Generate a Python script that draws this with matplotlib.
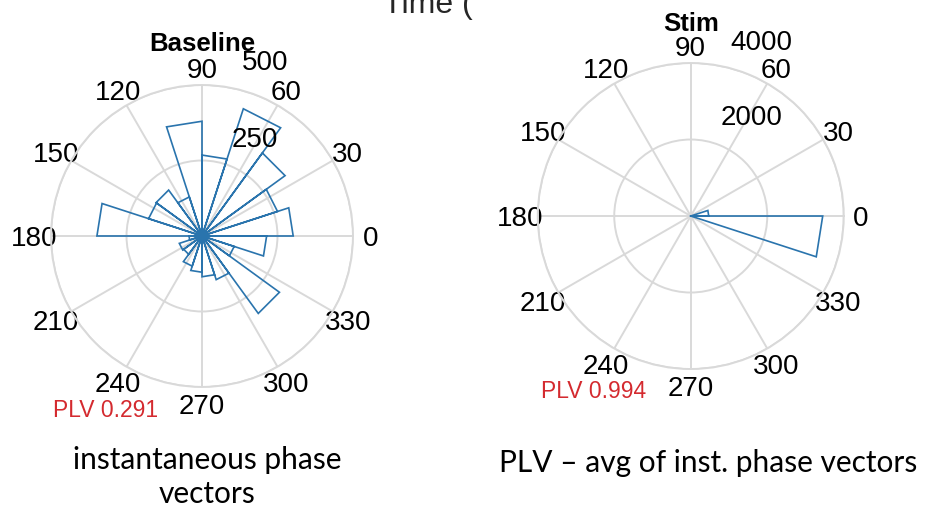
import numpy as np
import matplotlib
matplotlib.use("Agg")
import matplotlib.pyplot as plt

# Rose histogram of instantaneous phase: 20 bins of 18 degrees
bin_edges_deg = np.arange(0, 361, 18)
baseline_counts = [302, 263, 340, 443, 268, 380, 136, 188, 186, 348,
                   43, 79, 75, 105, 120, 135, 152, 317, 112, 214]
stim_counts = [470, 0, 0, 0, 0, 0, 0, 0, 0, 0,
               0, 0, 0, 0, 0, 0, 0, 0, 0, 3450]

angle_ticks = [0, 30, 60, 90, 120, 150, 180, 210, 240, 270, 300, 330]
baseline_rticks = [250, 500]
stim_rticks = [2000, 4000]
plv_baseline = 0.291
plv_stim = 0.994

GRID = "#d9d9d9"
ROSE = "#2a74ad"
RED = "#d42a2f"

plt.rcParams["font.family"] = ["Liberation Sans", "DejaVu Sans"]

fig = plt.figure(figsize=(9.26, 5.09), dpi=100)


def rose(ax, counts, rticks, title, title_y, plv, rlabel_pos, plv_pos):
    edges = np.deg2rad(bin_edges_deg)
    th, rr = [], []
    for k, c in enumerate(counts):
        if c == 0:
            continue
        th += [0, edges[k], edges[k + 1], 0, np.nan]
        rr += [0, c, c, 0, np.nan]
    ax.plot(th, rr, color=ROSE, lw=1.2, solid_joinstyle="miter")

    ax.set_ylim(0, rticks[-1])
    ax.set_thetagrids(angle_ticks, labels=[str(a) for a in angle_ticks],
                      va="center_baseline")
    ax.set_yticks(rticks)
    ax.set_yticklabels([""] * len(rticks))
    ax.tick_params(axis="x", pad=5.5, labelsize=20, length=0)
    ax.tick_params(axis="y", length=0)
    ax.grid(True, color=GRID, lw=1.4)
    ax.spines["polar"].set_color(GRID)
    ax.spines["polar"].set_linewidth(1.4)

    for val, (px, py) in zip(rticks, rlabel_pos):
        ax.text(px, py, str(val), transform=ax.transAxes, ha="center",
                va="center", fontsize=20)

    ax.set_title(title, y=title_y, pad=0, fontweight="bold", fontsize=18.5)
    ax.text(plv_pos[0], plv_pos[1], f"PLV {plv:.3f}", transform=ax.transAxes,
            ha="center", va="center", fontsize=16.5, color=RED)


ax1 = fig.add_axes([0.0551, 0.2397, 0.3261, 0.5933], projection="polar")
rose(ax1, baseline_counts, baseline_rticks, "Baseline", 1.111, plv_baseline,
     [(0.675, 0.818), (0.709, 1.073)], (0.182, -0.078))

ax2 = fig.add_axes([0.5807, 0.2750, 0.3305, 0.6012], projection="polar")
rose(ax2, stim_counts, stim_rticks, "Stim", 1.104, plv_stim,
     [(0.699, 0.820), (0.732, 1.065)], (0.181, -0.075))

fig.text(383 / 926, 1 - 13 / 509, "Time (", fontsize=23, va="baseline",
         ha="left", color="#262626")

cap = dict(family=["Lato", "DejaVu Sans"], fontsize=21.5, ha="center",
           va="center", color="black")
fig.text(207 / 926, 1 - 460 / 509, "instantaneous phase", **cap)
fig.text(207 / 926, 1 - 494 / 509, "vectors", **cap)
fig.text(708 / 926, 1 - 463 / 509, "PLV \u2013 avg of inst. phase vectors", **cap)

fig.savefig("out.png", dpi=100)
